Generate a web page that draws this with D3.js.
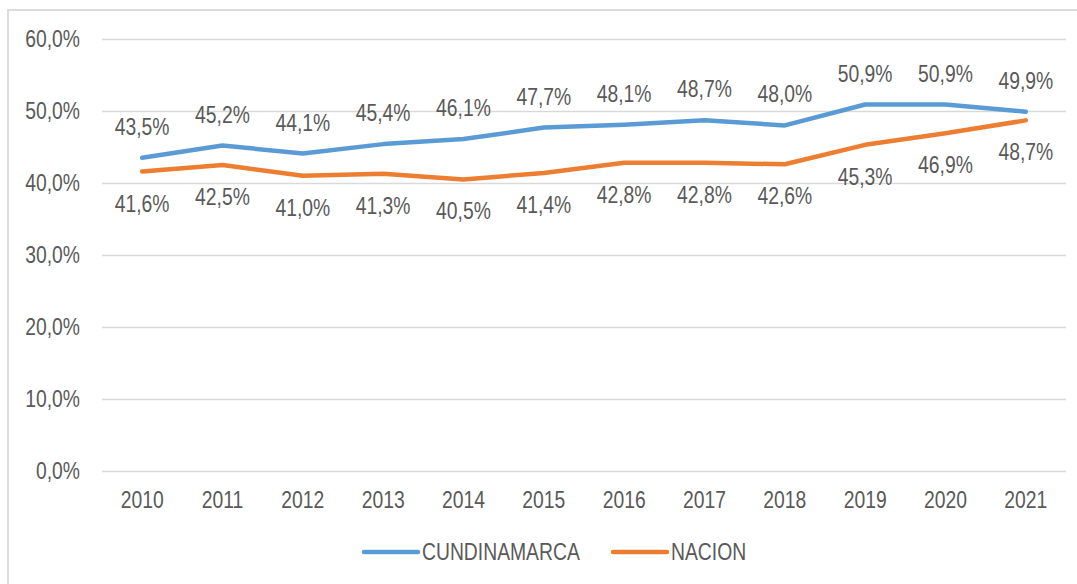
<!DOCTYPE html>
<html>
<head>
<meta charset="utf-8">
<script src="https://cdn.jsdelivr.net/npm/d3@7"></script>
<style>
  body { margin: 0; background: #fff; }
  text { font-family: "Liberation Sans", Arial, sans-serif; fill: #595959; }
</style>
</head>
<body>
<script>
// chart data
var years = ["2010","2011","2012","2013","2014","2015","2016","2017","2018","2019","2020","2021"];
var cundinamarca = [43.5, 45.2, 44.1, 45.4, 46.1, 47.7, 48.1, 48.7, 48.0, 50.9, 50.9, 49.9];
var nacion = [41.6, 42.5, 41.0, 41.3, 40.5, 41.4, 42.8, 42.8, 42.6, 45.3, 46.9, 48.7];
var yTicks = [0, 10, 20, 30, 40, 50, 60];
var seriesNames = ["CUNDINAMARCA", "NACION"];

var W = 1077, H = 584;
var fs = "23px";
var fmt = function(v) { return v.toFixed(1).replace(".", ",") + "%"; };

// narrow the glyphs a bit (the original font is a condensed face)
function squeeze(sel) {
  sel.each(function() {
    var len = this.getComputedTextLength();
    d3.select(this).attr("textLength", len * 0.84).attr("lengthAdjust", "spacingAndGlyphs");
  });
}

var svg = d3.select("body").append("svg")
    .attr("width", W)
    .attr("height", H);

// outer border (bottom and right edges fall outside the picture)
svg.append("rect")
    .attr("x", 8).attr("y", 10)
    .attr("width", W + 10).attr("height", H + 10)
    .attr("fill", "none")
    .attr("stroke", "#d9d9d9")
    .attr("stroke-width", 1.8);

var x = d3.scaleBand().domain(years).range([102, 1066]);
var y = d3.scaleLinear().domain([0, 60]).range([471, 39]);

// gridlines
svg.append("g")
    .attr("transform", "translate(102,0)")
    .call(d3.axisLeft(y).tickValues(yTicks).tickSize(-964).tickFormat(""))
    .call(g => g.select(".domain").remove())
    .call(g => g.selectAll("line").attr("stroke", "#d9d9d9").attr("stroke-width", 1.3));

// y axis labels
svg.append("g")
    .attr("transform", "translate(80,0)")
    .call(d3.axisLeft(y).tickValues(yTicks).tickSize(0).tickPadding(0).tickFormat(fmt))
    .call(g => g.select(".domain").remove())
    .call(g => g.selectAll("text").style("font-size", fs).attr("fill", "#595959").call(squeeze));

// x axis labels
svg.append("g")
    .attr("transform", "translate(0,471)")
    .call(d3.axisBottom(x).tickSize(0).tickPadding(21))
    .call(g => g.select(".domain").remove())
    .call(g => g.selectAll("text").style("font-size", fs).attr("fill", "#595959").call(squeeze));

var cx = function(d, i) { return x(years[i]) + x.bandwidth() / 2; };
var line = d3.line().x(function(d, i) { return cx(d, i); }).y(function(d) { return y(d); });

var series = [
  { name: seriesNames[0], values: cundinamarca, color: "#5b9bd5", dy: -31 },
  { name: seriesNames[1], values: nacion, color: "#ed7d31", dy: 32 }
];

series.forEach(function(s) {
  svg.append("path")
      .datum(s.values)
      .attr("d", line)
      .attr("fill", "none")
      .attr("stroke", s.color)
      .attr("stroke-width", 4.5)
      .attr("stroke-linejoin", "round")
      .attr("stroke-linecap", "round");

  svg.append("g").selectAll("text")
      .data(s.values)
      .enter().append("text")
      .attr("x", cx)
      .attr("y", function(d) { return y(d) + s.dy; })
      .attr("dy", "0.35em")
      .attr("text-anchor", "middle")
      .style("font-size", fs)
      .text(fmt)
      .call(squeeze);
});

// legend
var legend = svg.append("g").attr("transform", "translate(0,552)");
var legX = [364, 613];
series.forEach(function(s, i) {
  legend.append("line")
      .attr("x1", legX[i]).attr("x2", legX[i] + 54)
      .attr("y1", 0).attr("y2", 0)
      .attr("stroke", s.color)
      .attr("stroke-width", 4.5)
      .attr("stroke-linecap", "round");
  legend.append("text")
      .attr("x", legX[i] + 58)
      .attr("y", 0)
      .attr("dy", "0.35em")
      .style("font-size", fs)
      .text(s.name)
      .call(squeeze);
});
</script>
</body>
</html>
